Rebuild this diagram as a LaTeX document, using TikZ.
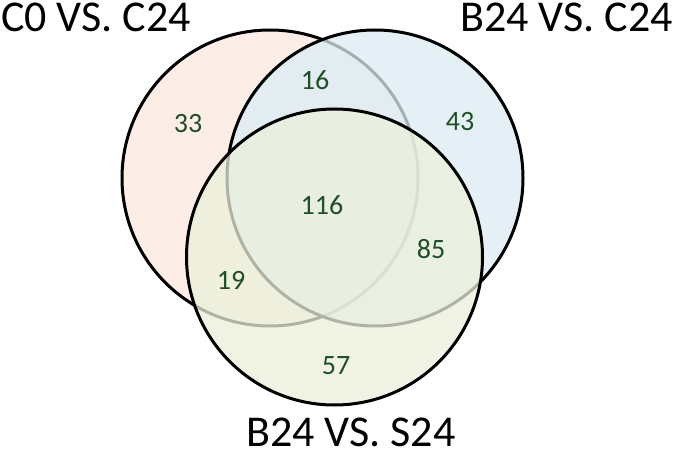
\documentclass[tikz,border=0pt]{standalone}
\usepackage{fontspec}
\setmainfont{Carlito}
\definecolor{peachbase}{RGB}{252,232,222}
\definecolor{bluebase}{RGB}{219,236,244}
\definecolor{greenbase}{RGB}{235,240,219}
\definecolor{numgreen}{RGB}{31,78,40}
\tikzset{
  setcircle/.style={line width=3pt, draw=black, fill opacity=0.75},
  settitle/.style={font=\fontsize{44}{50}\selectfont, inner sep=0pt},
  setnum/.style={font=\fontsize{28}{32}\selectfont, text=numgreen, inner sep=0pt}
}
\begin{document}
\begin{tikzpicture}[x=1pt,y=1pt]
\useasboundingbox (0,0) rectangle (675,456);
\fill[white] (0,0) rectangle (675,456);
\draw[setcircle, fill=peachbase] (270,278) circle[radius=148];
\draw[setcircle, fill=bluebase] (375,278) circle[radius=148];
\draw[setcircle, fill=greenbase] (334.5,199) circle[radius=148];
\node[settitle, anchor=base west] (tA) at (1,424) {C0 VS. C24};
\node[settitle, anchor=base east] (tB) at (673,424) {B24 VS. C24};
\node[settitle, anchor=base] (tC) at (351,10) {B24 VS. S24};
\node[setnum] (n33) at (188,332) {33};
\node[setnum] (n16) at (315,376) {16};
\node[setnum] (n43) at (460,334) {43};
\node[setnum] (n116) at (322,251) {116};
\node[setnum] (n85) at (431,207) {85};
\node[setnum] (n19) at (231,176) {19};
\node[setnum] (n57) at (336,90) {57};
\end{tikzpicture}
\end{document}
